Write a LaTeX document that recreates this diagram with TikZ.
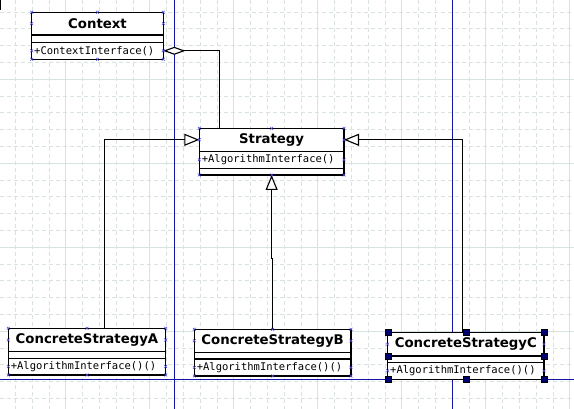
\documentclass[tikz,border=0pt]{standalone}
\usepackage{fontspec}
\newfontfamily\dejasans{DejaVu Sans}
\newfontfamily\dejamono{DejaVu Sans Mono}
\usetikzlibrary{arrows.meta,calc}
\definecolor{gridc}{RGB}{216,226,222}
\definecolor{guidec}{RGB}{20,20,165}
\definecolor{cpc}{RGB}{70,70,225}
\definecolor{handlec}{RGB}{0,0,110}
\begin{document}
\begin{tikzpicture}[x=1pt,y=-1pt,
  comp/.style={draw=black, line width=1.2pt, inner sep=0pt, outer sep=0pt, fill=white},
  namefnt/.style={font=\dejasans\bfseries\fontsize{13.3}{15}\selectfont},
  opstext/.style={inner sep=0pt, outer sep=0pt, font=\dejamono\fontsize{10.5}{12}\selectfont},
  conn/.style={draw=black, line width=1.1pt},
  inh/.style={conn, -{Triangle[length=15pt,width=12pt,fill=white]}},
  gridminor/.style={draw=gridc, line width=0.8pt, dash pattern=on 4pt off 3pt},
  gridmajor/.style={draw=gridc, line width=0.8pt},
  guide/.style={draw=guidec, line width=1pt},
  handle/.style={draw=black, fill=handlec, line width=0.4pt, minimum size=6pt, inner sep=0pt, outer sep=0pt},
  cp/.pic={\draw[cpc, line width=0.5pt] (-1.4,-1.4) -- (1.4,1.4) (-1.4,1.4) -- (1.4,-1.4);}
]
\fill[white] (0,0) rectangle (574,409);
\useasboundingbox (0,0) rectangle (574,409);
% grid
\foreach \i in {0,...,33} {\draw[gridminor] ({15.3+16.8*\i},0) -- ({15.3+16.8*\i},409);}
\foreach \j in {0,...,23} {\draw[gridminor] (0,{12.1+16.8*\j}) -- (574,{12.1+16.8*\j});}
\foreach \i in {3,8,...,33} {\draw[gridmajor] ({15.3+16.8*\i},0) -- ({15.3+16.8*\i},409);}
\foreach \j in {4,9,14,19} {\draw[gridmajor] (0,{12.1+16.8*\j}) -- (574,{12.1+16.8*\j});}
% guides
\draw[guide] (174.3,0) -- (174.3,409);
\draw[guide] (452.5,0) -- (452.5,409);
\draw[guide] (0,379.2) -- (574,379.2);
\draw[black, line width=1.2pt] (0.6,0) -- (0.6,10.5);

% Context
\node[comp, minimum width=131.6pt, minimum height=22.7pt, anchor=north west, namefnt] (ctxname) at (31.7,12.3) {Context};
\node[comp, minimum width=131.6pt, minimum height=7.3pt, anchor=north] (ctxattr) at (ctxname.south) {};
\node[comp, minimum width=131.6pt, minimum height=17pt, anchor=north] (ctxops) at (ctxattr.south) {};
\node[opstext, anchor=west] (ctxopst) at ([xshift=2.5pt]ctxops.west) {+ContextInterface()};

% Strategy
\node[comp, minimum width=144.7pt, minimum height=23pt, anchor=north west, namefnt] (stratname) at (199.3,128.3) {Strategy};
\node[comp, minimum width=144.7pt, minimum height=17pt, anchor=north] (stratops) at (stratname.south) {};
\node[comp, minimum width=144.7pt, minimum height=6.7pt, anchor=north] (stratempty) at (stratops.south) {};
\node[opstext, anchor=west] (stratopst) at ([xshift=2.5pt]stratops.west) {+AlgorithmInterface()};

% ConcreteStrategyA
\node[comp, minimum width=157.4pt, minimum height=23.4pt, anchor=north west, namefnt] (Aname) at (8.3,328.3) {ConcreteStrategyA};
\node[comp, minimum width=157.4pt, minimum height=6.6pt, anchor=north] (Aattr) at (Aname.south) {};
\node[comp, minimum width=157.4pt, minimum height=16.7pt, anchor=north] (Aops) at (Aattr.south) {};
\node[opstext, anchor=west] (Aopst) at ([xshift=2.5pt]Aops.west) {+AlgorithmInterface()()};

% ConcreteStrategyB
\node[comp, minimum width=156.7pt, minimum height=23pt, anchor=north west, namefnt] (Bname) at (194.3,329.3) {ConcreteStrategyB};
\node[comp, minimum width=156.7pt, minimum height=6.7pt, anchor=north] (Battr) at (Bname.south) {};
\node[comp, minimum width=156.7pt, minimum height=17pt, anchor=north] (Bops) at (Battr.south) {};
\node[opstext, anchor=west] (Bopst) at ([xshift=2.5pt]Bops.west) {+AlgorithmInterface()()};

% ConcreteStrategyC
\node[comp, minimum width=156.3pt, minimum height=23.7pt, anchor=north west, namefnt] (Cname) at (387.7,332.3) {ConcreteStrategyC};
\node[comp, minimum width=156.3pt, minimum height=6.3pt, anchor=north] (Cattr) at (Cname.south) {};
\node[comp, minimum width=156.3pt, minimum height=17pt, anchor=north] (Cops) at (Cattr.south) {};
\node[opstext, anchor=west] (Copst) at ([xshift=2.5pt]Cops.west) {+AlgorithmInterface()()};

% connectors
\coordinate (aggend) at ([xshift=20pt]stratname.north west);
\draw[conn, {Diamond[length=22pt,width=8pt,fill=white]}-] (ctxops.east) -| (aggend);
\coordinate (atop) at ([xshift=17.3pt]Aname.north);
\draw[inh] (atop) |- (stratname.west);
\coordinate (ctop) at ([xshift=-3.2pt]Cname.north);
\draw[inh] (ctop) |- (stratname.east);
\coordinate (btop) at (Bname.north);
\coordinate (bjog) at (0,258.3);
\draw[inh] (btop) -- (btop |- bjog) -- (stratempty.south |- bjog) -- (stratempty.south);

% connection points
\foreach \a in {ctxname.north west, ctxname.north, ctxname.north east, ctxname.west, ctxname.east, ctxops.west, ctxops.east, ctxops.south west, ctxops.south, ctxops.south east,
  stratname.north west, stratname.north, stratname.north east, stratname.west, stratname.east, stratops.west, stratops.east, stratempty.south west, stratempty.south, stratempty.south east,
  Aname.north west, Aname.north, Aname.north east, Aname.west, Aname.east, Aops.west, Aops.east, Aops.south west, Aops.south, Aops.south east,
  Bname.north west, Bname.north, Bname.north east, Bname.west, Bname.east, Bops.west, Bops.east, Bops.south west, Bops.south, Bops.south east,
  Cname.west, Cname.east, Cops.west, Cops.east}
  {\pic at (\a) {cp};}

% selection handles on C
\coordinate (cmidw) at ($(Cname.north west)!0.5!(Cops.south west)$);
\coordinate (cmide) at ($(Cname.north east)!0.5!(Cops.south east)$);
\foreach \p [count=\k] in {Cname.north west, Cname.north, Cname.north east, cmidw, cmide, Cops.south west, Cops.south, Cops.south east}
  {\node[handle] (h\k) at (\p) {};}
\end{tikzpicture}
\end{document}
